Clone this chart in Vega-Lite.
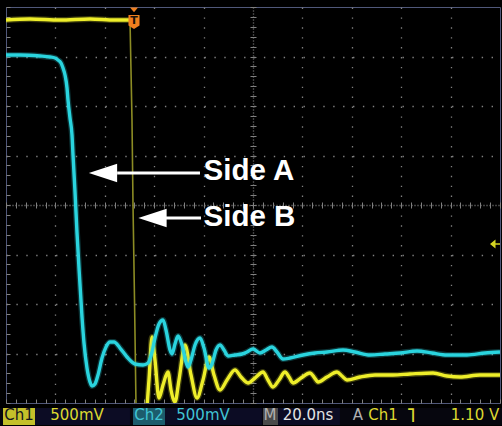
{
  "$schema": "https://vega.github.io/schema/vega-lite/v6.json",
  "width": 494,
  "height": 396,
  "autosize": {"type": "none"},
  "padding": {"left": 6, "top": 7, "right": 2, "bottom": 23},
  "background": "#000000",
  "config": {"view": {"stroke": "#50587a", "strokeWidth": 1}},
  "datasets": {
    "ch1": [
      {"seg": "high", "t": 0, "v": 3.737},
      {"seg": "high", "t": 9.72, "v": 3.758},
      {"seg": "high", "t": 21.86, "v": 3.737},
      {"seg": "high", "t": 34.01, "v": 3.758},
      {"seg": "high", "t": 44.13, "v": 3.737},
      {"seg": "high", "t": 50.2, "v": 3.737},
      {"seg": "low", "t": 52.8, "v": -4.4},
      {"seg": "low", "t": 56.2, "v": -4.4},
      {"seg": "low", "t": 57.89, "v": -3.535},
      {"seg": "low", "t": 59.11, "v": -2.667},
      {"seg": "low", "t": 60.32, "v": -3.131},
      {"seg": "low", "t": 61.94, "v": -3.899},
      {"seg": "low", "t": 63.56, "v": -3.636},
      {"seg": "low", "t": 65.58, "v": -3.374},
      {"seg": "low", "t": 66.8, "v": -3.737},
      {"seg": "low", "t": 68.42, "v": -3.98},
      {"seg": "low", "t": 70.04, "v": -3.535},
      {"seg": "low", "t": 72.47, "v": -2.828},
      {"seg": "low", "t": 74.9, "v": -3.434},
      {"seg": "low", "t": 77.33, "v": -3.899},
      {"seg": "low", "t": 79.76, "v": -3.535},
      {"seg": "low", "t": 82.19, "v": -3.071},
      {"seg": "low", "t": 84.21, "v": -3.434},
      {"seg": "low", "t": 86.64, "v": -3.737},
      {"seg": "low", "t": 89.47, "v": -3.535},
      {"seg": "low", "t": 92.71, "v": -3.333},
      {"seg": "low", "t": 95.14, "v": -3.475},
      {"seg": "low", "t": 97.98, "v": -3.596},
      {"seg": "low", "t": 100.81, "v": -3.495},
      {"seg": "low", "t": 104.05, "v": -3.374},
      {"seg": "low", "t": 106.07, "v": -3.535},
      {"seg": "low", "t": 108.1, "v": -3.677},
      {"seg": "low", "t": 110.53, "v": -3.535},
      {"seg": "low", "t": 112.96, "v": -3.374},
      {"seg": "low", "t": 114.58, "v": -3.475},
      {"seg": "low", "t": 116.2, "v": -3.596},
      {"seg": "low", "t": 119.43, "v": -3.495},
      {"seg": "low", "t": 123.08, "v": -3.394},
      {"seg": "low", "t": 124.7, "v": -3.475},
      {"seg": "low", "t": 126.32, "v": -3.576},
      {"seg": "low", "t": 129.96, "v": -3.475},
      {"seg": "low", "t": 134.01, "v": -3.374},
      {"seg": "low", "t": 136.03, "v": -3.455},
      {"seg": "low", "t": 138.06, "v": -3.535},
      {"seg": "low", "t": 143.32, "v": -3.475},
      {"seg": "low", "t": 149.39, "v": -3.434},
      {"seg": "low", "t": 156.68, "v": -3.434},
      {"seg": "low", "t": 163.56, "v": -3.414},
      {"seg": "low", "t": 172.88, "v": -3.394},
      {"seg": "low", "t": 178.54, "v": -3.455},
      {"seg": "low", "t": 183.81, "v": -3.475},
      {"seg": "low", "t": 191.9, "v": -3.434},
      {"seg": "low", "t": 200, "v": -3.434}
    ],
    "ch1edge": [
      {"t": 50.2, "v": 3.737},
      {"t": 51.01, "v": 1.717},
      {"t": 51.42, "v": 0},
      {"t": 52.03, "v": -1.919},
      {"t": 52.63, "v": -4.04},
      {"t": 52.8, "v": -4.4}
    ],
    "ch2": [
      {"t": 0, "v": 3.03}, {"t": 5.67, "v": 3.03}, {"t": 13.77, "v": 3.01},
      {"t": 17.81, "v": 2.99}, {"t": 19.84, "v": 2.97}, {"t": 21.05, "v": 2.929},
      {"t": 22.27, "v": 2.869}, {"t": 23.08, "v": 2.768}, {"t": 23.89, "v": 2.626},
      {"t": 24.7, "v": 2.364}, {"t": 25.1, "v": 2.121}, {"t": 25.91, "v": 1.758},
      {"t": 26.72, "v": 1.414}, {"t": 27.13, "v": 1.01}, {"t": 27.94, "v": 0.263},
      {"t": 28.75, "v": -0.566}, {"t": 29.55, "v": -1.273}, {"t": 30.77, "v": -2.263},
      {"t": 31.58, "v": -2.788}, {"t": 32.79, "v": -3.293}, {"t": 34.01, "v": -3.576},
      {"t": 34.82, "v": -3.657}, {"t": 36.03, "v": -3.616}, {"t": 37.25, "v": -3.434},
      {"t": 38.87, "v": -3.091}, {"t": 40.49, "v": -2.869}, {"t": 42.11, "v": -2.768},
      {"t": 43.73, "v": -2.768}, {"t": 46.15, "v": -2.889}, {"t": 48.99, "v": -3.071},
      {"t": 52.23, "v": -3.212}, {"t": 55.47, "v": -3.232}, {"t": 57.49, "v": -3.192},
      {"t": 59.11, "v": -2.97}, {"t": 60.32, "v": -2.687}, {"t": 61.94, "v": -2.404},
      {"t": 63.56, "v": -2.323}, {"t": 64.78, "v": -2.525}, {"t": 66.4, "v": -2.929},
      {"t": 67.21, "v": -3.01}, {"t": 68.42, "v": -2.808}, {"t": 69.64, "v": -2.646},
      {"t": 71.26, "v": -2.828}, {"t": 72.87, "v": -3.172}, {"t": 73.68, "v": -3.273},
      {"t": 74.9, "v": -3.131}, {"t": 76.52, "v": -2.828}, {"t": 78.54, "v": -2.687},
      {"t": 80.16, "v": -2.889}, {"t": 82.19, "v": -3.293}, {"t": 83.4, "v": -3.212},
      {"t": 85.02, "v": -2.929}, {"t": 86.64, "v": -2.828}, {"t": 88.26, "v": -2.929},
      {"t": 89.88, "v": -3.051}, {"t": 92.71, "v": -3.03}, {"t": 95.55, "v": -3.01},
      {"t": 97.57, "v": -2.97}, {"t": 100.0, "v": -2.909}, {"t": 102.83, "v": -2.99},
      {"t": 105.26, "v": -2.929}, {"t": 107.69, "v": -2.869}, {"t": 109.72, "v": -2.97},
      {"t": 112.15, "v": -3.111}, {"t": 114.98, "v": -3.091}, {"t": 120.24, "v": -3.03},
      {"t": 125.09, "v": -2.99}, {"t": 129.96, "v": -2.97}, {"t": 136.44, "v": -2.929},
      {"t": 141.3, "v": -2.97}, {"t": 147.37, "v": -3.03}, {"t": 153.44, "v": -3.01},
      {"t": 159.51, "v": -2.99}, {"t": 166.4, "v": -2.949}, {"t": 172.48, "v": -2.99},
      {"t": 178.54, "v": -3.03}, {"t": 186.64, "v": -3.03}, {"t": 193.93, "v": -2.99},
      {"t": 200.0, "v": -2.97}
    ],
    "trigger": [{"t": 51.82, "level": -0.788}],
    "notes": [
      {"label": "Side A", "head": 39.27, "shaft_from": 45.0, "shaft_to": 78.54, "arrow_v": 0.646, "text_t": 80.0, "text_v": 0.505},
      {"label": "Side B", "head": 59.31, "shaft_from": 63.0, "shaft_to": 78.95, "arrow_v": -0.263, "text_t": 80.0, "text_v": -0.424}
    ],
    "boxes": [
      {"kind": "bar", "t1": -2.43, "t2": 200.8},
      {"kind": "dark", "t1": 11.74, "t2": 50.2},
      {"kind": "dark", "t1": 64.37, "t2": 103.6},
      {"kind": "dark", "t1": 110.12, "t2": 135.2},
      {"kind": "ch1", "t1": -1.21, "t2": 11.74},
      {"kind": "ch2", "t1": 51.42, "t2": 64.37},
      {"kind": "m", "t1": 104.05, "t2": 110.12}
    ],
    "status": [
      {"txt": "Ch1", "t": 5.26, "kind": "ch1box", "part": "text"},
      {"txt": "500mV", "t": 28.75, "kind": "ch1", "part": "text"},
      {"txt": "Ch2", "t": 57.89, "kind": "ch2", "part": "text"},
      {"txt": "500mV", "t": 79.76, "kind": "ch2", "part": "text"},
      {"txt": "M", "t": 106.88, "kind": "m", "part": "text"},
      {"txt": "20.0ns", "t": 122.27, "kind": "time", "part": "text"},
      {"txt": "A", "t": 142.51, "kind": "m", "part": "text"},
      {"txt": "Ch1", "t": 152.63, "kind": "ch1", "part": "text"},
      {"txt": "˥", "t": 163.97, "kind": "ch1", "part": "symbol"},
      {"txt": "1.10 V", "t": 189.88, "kind": "ch1", "part": "text"}
    ]
  },
  "resolve": {"axis": {"x": "independent", "y": "independent"}, "scale": {"color": "independent"}},
  "layer": [
    {
      "data": {"name": "ch1"},
      "mark": {"type": "line", "clip": true, "color": "#eeee2a", "strokeWidth": 3.4, "interpolate": "monotone"},
      "encoding": {
        "x": {
          "field": "t", "type": "quantitative",
          "scale": {"domain": [0, 200], "nice": false, "zero": false},
          "axis": {
            "orient": "bottom", "title": null, "labels": false, "domain": false,
            "values": [0,4,8,12,16,20,24,28,32,36,40,44,48,52,56,60,64,68,72,76,80,84,88,92,96,100,104,108,112,116,120,124,128,132,136,140,144,148,152,156,160,164,168,172,176,180,184,188,192,196,200],
            "ticks": true, "tickSize": -4, "tickColor": "#808080", "tickWidth": 1,
            "grid": true, "gridColor": "#808080", "gridWidth": 1.3,
            "gridDash": {"condition": {"test": "datum.value === 100", "value": [1, 2]}, "value": [1.4, 8.5]},
            "gridOpacity": {"condition": {"test": "datum.value % 20 === 0 && datum.value > 0 && datum.value < 200", "value": 1}, "value": 0}
          }
        },
        "y": {
          "field": "v", "type": "quantitative",
          "scale": {"domain": [-4, 4], "nice": false, "zero": false},
          "axis": {
            "orient": "left", "title": null, "labels": false, "domain": false,
            "values": [-4,-3.8,-3.6,-3.4,-3.2,-3,-2.8,-2.6,-2.4,-2.2,-2,-1.8,-1.6,-1.4,-1.2,-1,-0.8,-0.6,-0.4,-0.2,0,0.2,0.4,0.6,0.8,1,1.2,1.4,1.6,1.8,2,2.2,2.4,2.6,2.8,3,3.2,3.4,3.6,3.8,4],
            "ticks": true, "tickSize": -4, "tickColor": "#808080", "tickWidth": 1,
            "grid": true, "gridColor": "#808080", "gridWidth": 1.3,
            "gridDash": {"condition": {"test": "datum.value === 0", "value": [1, 2]}, "value": [1.4, 8.5]},
            "gridOpacity": {"condition": {"test": "abs(datum.value - round(datum.value)) < 0.001 && abs(datum.value) < 3.5", "value": 1}, "value": 0}
          }
        },
        "detail": {"field": "seg", "type": "nominal"}
      }
    },
    {
      "data": {"name": "ch1"},
      "mark": {"type": "line", "clip": true, "color": "#eeee2a", "opacity": 0.25, "strokeWidth": 6, "interpolate": "monotone"},
      "encoding": {
        "x": {"field": "t", "type": "quantitative", "scale": {"domain": [0, 200], "nice": false, "zero": false}, "axis": null},
        "y": {"field": "v", "type": "quantitative", "scale": {"domain": [-4, 4], "nice": false, "zero": false}, "axis": null},
        "detail": {"field": "seg", "type": "nominal"}
      }
    },
    {
      "data": {"name": "ch1edge"},
      "mark": {"type": "line", "clip": true, "color": "#8c8c24", "strokeWidth": 1.6},
      "encoding": {
        "x": {"field": "t", "type": "quantitative", "scale": {"domain": [0, 200], "nice": false, "zero": false}, "axis": null},
        "y": {"field": "v", "type": "quantitative", "scale": {"domain": [-4, 4], "nice": false, "zero": false}, "axis": null}
      }
    },
    {
      "data": {"name": "ch2"},
      "mark": {"type": "line", "clip": true, "color": "#2ad4de", "opacity": 0.25, "strokeWidth": 6, "interpolate": "monotone"},
      "encoding": {
        "x": {"field": "t", "type": "quantitative", "scale": {"domain": [0, 200], "nice": false, "zero": false}, "axis": null},
        "y": {"field": "v", "type": "quantitative", "scale": {"domain": [-4, 4], "nice": false, "zero": false}, "axis": null}
      }
    },
    {
      "data": {"name": "ch2"},
      "mark": {"type": "line", "clip": true, "color": "#2ad4de", "strokeWidth": 3.4, "interpolate": "monotone"},
      "encoding": {
        "x": {"field": "t", "type": "quantitative", "scale": {"domain": [0, 200], "nice": false, "zero": false}, "axis": null},
        "y": {"field": "v", "type": "quantitative", "scale": {"domain": [-4, 4], "nice": false, "zero": false}, "axis": null}
      }
    },
    {
      "data": {"name": "trigger"},
      "mark": {"type": "point", "filled": true, "color": "#d4d422", "opacity": 1, "size": 100,
               "shape": "M -1 0 L 0.1 -0.9 L 0.1 -0.15 L 1 -0.15 L 1 0.15 L 0.1 0.15 L 0.1 0.9 Z"},
      "encoding": {
        "x": {
          "datum": 197.98, "type": "quantitative",
          "scale": {"domain": [0, 200], "nice": false, "zero": false},
          "axis": {
            "orient": "top", "offset": -201, "title": null, "labels": false, "domain": false, "grid": false,
            "values": [0,4,8,12,16,20,24,28,32,36,40,44,48,52,56,60,64,68,72,76,80,84,88,92,96,100,104,108,112,116,120,124,128,132,136,140,144,148,152,156,160,164,168,172,176,180,184,188,192,196,200],
            "ticks": true, "tickSize": 6, "tickColor": "#808080", "tickWidth": 1
          }
        },
        "y": {
          "field": "level", "type": "quantitative",
          "scale": {"domain": [-4, 4], "nice": false, "zero": false},
          "axis": {
            "orient": "right", "offset": -250, "title": null, "labels": false, "domain": false, "grid": false,
            "values": [-4,-3.8,-3.6,-3.4,-3.2,-3,-2.8,-2.6,-2.4,-2.2,-2,-1.8,-1.6,-1.4,-1.2,-1,-0.8,-0.6,-0.4,-0.2,0,0.2,0.4,0.6,0.8,1,1.2,1.4,1.6,1.8,2,2.2,2.4,2.6,2.8,3,3.2,3.4,3.6,3.8,4],
            "ticks": true, "tickSize": 6, "tickColor": "#808080", "tickWidth": 1
          }
        }
      }
    },
    {
      "data": {"name": "trigger"},
      "mark": {"type": "point", "filled": true, "color": "#f07f1e", "opacity": 1, "size": 64, "shape": "M -1 -0.6 L 1 -0.6 L 0 0.6 Z"},
      "encoding": {
        "x": {"field": "t", "type": "quantitative", "scale": {"domain": [0, 200], "nice": false, "zero": false}, "axis": null},
        "y": {"datum": 3.94, "type": "quantitative", "scale": {"domain": [-4, 4], "nice": false, "zero": false}, "axis": null}
      }
    },
    {
      "data": {"name": "trigger"},
      "mark": {"type": "point", "filled": true, "color": "#f07f1e", "opacity": 1, "size": 196, "shape": "M -0.79 -1 L 0.79 -1 L 0.79 0.5 L 0 1 L -0.79 0.5 Z"},
      "encoding": {
        "x": {"field": "t", "type": "quantitative", "scale": {"domain": [0, 200], "nice": false, "zero": false}, "axis": null},
        "y": {"datum": 3.697, "type": "quantitative", "scale": {"domain": [-4, 4], "nice": false, "zero": false}, "axis": null}
      }
    },
    {
      "data": {"name": "trigger"},
      "mark": {"type": "text", "text": "T", "font": "DejaVu Sans", "fontWeight": "bold", "fontSize": 11, "color": "#1a1208", "align": "center", "baseline": "middle"},
      "encoding": {
        "x": {"field": "t", "type": "quantitative", "scale": {"domain": [0, 200], "nice": false, "zero": false}, "axis": null},
        "y": {"datum": 3.72, "type": "quantitative", "scale": {"domain": [-4, 4], "nice": false, "zero": false}, "axis": null}
      }
    },
    {
      "data": {"name": "notes"},
      "mark": {"type": "rule", "color": "#ffffff", "strokeWidth": 3},
      "encoding": {
        "x": {"field": "shaft_from", "type": "quantitative", "scale": {"domain": [0, 200], "nice": false, "zero": false}, "axis": null},
        "x2": {"field": "shaft_to"},
        "y": {"field": "arrow_v", "type": "quantitative", "scale": {"domain": [-4, 4], "nice": false, "zero": false}, "axis": null}
      }
    },
    {
      "data": {"name": "notes"},
      "mark": {"type": "point", "filled": true, "color": "#ffffff", "opacity": 1, "size": 800, "shape": "M -1 0 L 1 -0.65 L 1 0.65 Z"},
      "encoding": {
        "x": {"field": "head", "type": "quantitative", "scale": {"domain": [0, 200], "nice": false, "zero": false}, "axis": null},
        "y": {"field": "arrow_v", "type": "quantitative", "scale": {"domain": [-4, 4], "nice": false, "zero": false}, "axis": null}
      }
    },
    {
      "data": {"name": "notes"},
      "mark": {"type": "text", "font": "Liberation Sans", "fontWeight": "bold", "fontSize": 29.5, "color": "#ffffff", "align": "left", "baseline": "alphabetic"},
      "encoding": {
        "x": {"field": "text_t", "type": "quantitative", "scale": {"domain": [0, 200], "nice": false, "zero": false}, "axis": null},
        "y": {"field": "text_v", "type": "quantitative", "scale": {"domain": [-4, 4], "nice": false, "zero": false}, "axis": null},
        "text": {"field": "label"}
      }
    },
    {
      "data": {"name": "boxes"},
      "mark": {"type": "rect", "opacity": 1},
      "encoding": {
        "x": {"field": "t1", "type": "quantitative", "scale": {"domain": [0, 200], "nice": false, "zero": false}, "axis": null},
        "x2": {"field": "t2"},
        "y": {"datum": -4.101, "type": "quantitative", "scale": {"domain": [-4, 4], "nice": false, "zero": false}, "axis": null},
        "y2": {"datum": -4.444},
        "color": {"field": "kind", "type": "nominal", "legend": null,
                  "scale": {"domain": ["bar", "dark", "ch1", "ch2", "m"], "range": ["#06060e", "#0c0c24", "#c4c02a", "#1c5c6c", "#4a4a4a"]}}
      }
    },
    {
      "data": {"name": "status"},
      "transform": [{"filter": "datum.part === 'text'"}],
      "mark": {"type": "text", "font": "DejaVu Sans", "fontSize": 15, "align": "center", "baseline": "middle"},
      "encoding": {
        "x": {"field": "t", "type": "quantitative", "scale": {"domain": [0, 200], "nice": false, "zero": false}, "axis": null},
        "y": {"datum": -4.25, "type": "quantitative", "scale": {"domain": [-4, 4], "nice": false, "zero": false}, "axis": null},
        "text": {"field": "txt"},
        "color": {"field": "kind", "type": "nominal", "legend": null,
                  "scale": {"domain": ["ch1box", "ch1", "ch2", "m", "time"], "range": ["#14141e", "#dcd830", "#40c4d4", "#b0b0b0", "#e4e4e4"]}}
      }
    },
    {
      "data": {"name": "status"},
      "transform": [{"filter": "datum.part === 'symbol'"}],
      "mark": {"type": "text", "font": "DejaVu Sans", "fontSize": 19, "fontWeight": "bold", "color": "#dcd830", "align": "center", "baseline": "middle"},
      "encoding": {
        "x": {"field": "t", "type": "quantitative", "scale": {"domain": [0, 200], "nice": false, "zero": false}, "axis": null},
        "y": {"datum": -4.27, "type": "quantitative", "scale": {"domain": [-4, 4], "nice": false, "zero": false}, "axis": null},
        "text": {"field": "txt"}
      }
    }
  ]
}
